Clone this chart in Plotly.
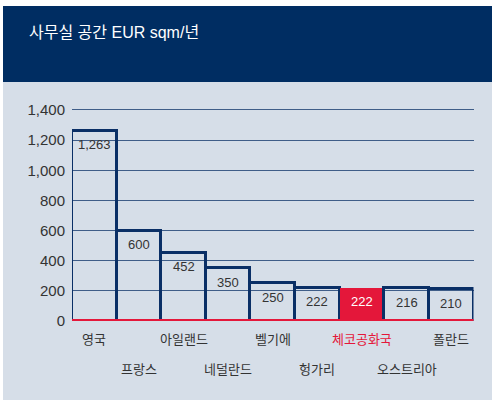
import plotly.graph_objects as go

categories = ["영국", "프랑스", "아일랜드", "네덜란드", "벨기에", "헝가리", "체코공화국", "오스트리아", "폴란드"]
values = [1263, 600, 452, 350, 250, 222, 222, 216, 210]
value_labels = ["1,263", "600", "452", "350", "250", "222", "222", "216", "210"]
highlight = "체코공화국"
y_ticks = [0, 200, 400, 600, 800, 1000, 1200, 1400]
y_tick_labels = ["0", "200", "400", "600", "800", "1,000", "1,200", "1,400"]
title_text = "사무실 공간 EUR sqm/년"

W, H = 493, 401
NAVY = "#002d62"
BAR_NAVY = "#0a2f66"
RED = "#e4173a"
BG = "#d6dee8"
TXT = "#333333"
FONT = "Liberation Sans, Arial, Noto Sans CJK KR, sans-serif"

def px_x(p):
    return p / W

def px_y(p):
    return (H - p) / H

fills = [RED if c == highlight else "rgba(0,0,0,0)" for c in categories]
line_colors = [RED if c == highlight else BAR_NAVY for c in categories]
line_widths = [0 if c == highlight else 3 for c in categories]

fig = go.Figure()
fig.add_trace(go.Bar(
    x=categories, y=values,
    marker=dict(color=fills, line=dict(color=line_colors, width=line_widths)),
    hoverinfo="skip",
))

annotations = []
for c, v, t in zip(categories, values, value_labels):
    annotations.append(dict(
        x=c, y=v, xref="x", yref="y", text=t, showarrow=False,
        yanchor="middle", yshift=-14,
        font=dict(family=FONT, size=13, color="white" if c == highlight else TXT),
    ))
for i, c in enumerate(categories):
    row_y = 339 if i % 2 == 0 else 369
    annotations.append(dict(
        x=c, y=px_y(row_y), xref="x", yref="paper", text=c, showarrow=False,
        yanchor="middle",
        font=dict(family=FONT, size=13, color=RED if c == highlight else TXT),
    ))
annotations.append(dict(
    x=px_x(27), y=px_y(33), xref="paper", yref="paper", text=title_text,
    showarrow=False, xanchor="left", yanchor="middle",
    font=dict(family=FONT, size=16, color="white"),
))

shapes = [
    dict(type="rect", xref="paper", yref="paper", x0=px_x(3), x1=px_x(492),
         y0=px_y(82), y1=px_y(6), fillcolor=NAVY, line=dict(width=0), layer="below"),
    dict(type="rect", xref="paper", yref="paper", x0=px_x(3), x1=px_x(492),
         y0=px_y(400), y1=px_y(82), fillcolor=BG, line=dict(width=0), layer="below"),
    dict(type="line", xref="x domain", yref="y", x0=0, x1=1, y0=0, y1=0,
         line=dict(color=RED, width=4), layer="above"),
]

ymax = 1420
y_bottom = px_y(321)
y_top = px_y(321 - ymax * 211 / 1400)

fig.update_layout(
    width=W, height=H,
    margin=dict(l=0, r=0, t=0, b=0, pad=0, autoexpand=False),
    paper_bgcolor="white",
    plot_bgcolor="rgba(0,0,0,0)",
    showlegend=False,
    bargap=0,
    annotations=annotations,
    shapes=shapes,
    xaxis=dict(domain=[px_x(72), px_x(473.5)], showticklabels=False, showgrid=False,
               zeroline=False, showline=False, ticks="", automargin=False),
    yaxis=dict(domain=[y_bottom, y_top], range=[0, ymax], tickvals=y_ticks,
               ticktext=y_tick_labels, showgrid=True, gridcolor="#3f5d88", gridwidth=1,
               zeroline=False, showline=False, ticks="", ticklabelstandoff=6,
               automargin=False,
               tickfont=dict(family=FONT, size=15, color=TXT)),
)

post = (
    "var de=document.documentElement,b=document.body;"
    "de.style.margin='0';de.style.padding='0';de.style.overflow='hidden';"
    "b.style.margin='0';b.style.padding='0';b.style.overflow='hidden';"
    "var g=document.getElementById('{plot_id}');"
    "g.style.position='absolute';g.style.left='0px';g.style.top='0px';"
)

fig.write_html("out.html", config={"displayModeBar": False}, post_script=post)
